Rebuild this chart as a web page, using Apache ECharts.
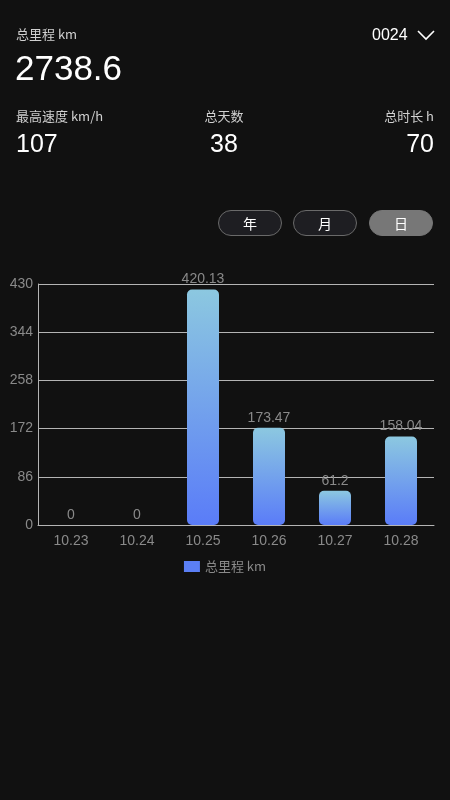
<!DOCTYPE html>
<html><head><meta charset="utf-8">
<script src="https://cdn.jsdelivr.net/npm/echarts@6/dist/echarts.min.js"></script>
<style>
html,body{margin:0;padding:0;background:#111111;width:450px;height:800px;overflow:hidden;font-family:"Noto Sans CJK SC","Noto Sans",sans-serif;}
.t{position:absolute;white-space:nowrap;}
.n{font-family:"Liberation Sans","Noto Sans",sans-serif;}
.btn{position:absolute;top:210px;width:64px;height:26px;border-radius:14px;box-sizing:border-box;border:1px solid #6a6a6a;background:#1e1e22;color:#fff;font-size:14px;line-height:24px;text-align:center;}
#chart{position:absolute;left:0;top:0;width:450px;height:800px;}
</style></head>
<body>
<div id="chart"></div>
<div class="t" style="left:16px;top:24px;font-size:13px;color:#d0d0d0;">总里程 km</div>
<div class="t n" style="left:15px;top:48px;font-size:35px;color:#fff;">2738.6</div>
<div class="t n" style="left:372px;top:26px;font-size:16px;color:#fff;">0024</div>
<svg style="position:absolute;left:417px;top:29px" width="18" height="12"><polyline points="1,2 9,10 17,2" fill="none" stroke="#fff" stroke-width="1.6"/></svg>
<div class="t" style="left:16px;top:106px;font-size:13px;color:#d0d0d0;">最高速度 km/h</div>
<div class="t n" style="left:16px;top:129px;font-size:25px;color:#fff;">107</div>
<div class="t" style="left:224px;top:106px;font-size:13px;color:#d0d0d0;transform:translateX(-50%);">总天数</div>
<div class="t n" style="left:224px;top:129px;font-size:25px;color:#fff;transform:translateX(-50%);">38</div>
<div class="t" style="right:16px;top:106px;font-size:13px;color:#d0d0d0;">总时长 h</div>
<div class="t n" style="right:16px;top:129px;font-size:25px;color:#fff;">70</div>
<div class="btn" style="left:218px;">年</div>
<div class="btn" style="left:293px;">月</div>
<div class="btn" style="left:369px;background:#777;border-color:#777;">日</div>
<script>
const categories = ['10.23','10.24','10.25','10.26','10.27','10.28'];
const distance = [0, 0, 420.13, 173.47, 61.2, 158.04];
const seriesName = '总里程 km';
const yMax = 430;
const yInterval = 86;

const numFont = 'Liberation Sans';
const chart = echarts.init(document.getElementById('chart'));
chart.setOption({
  backgroundColor: 'transparent',
  animation: false,
  legend: {
    data: [{name: seriesName, icon: 'rect'}],
    top: 555,
    left: 'center',
    itemWidth: 16, itemHeight: 11, itemGap: 6,
    textStyle: {color: '#8a8a8a', fontSize: 13, fontFamily: 'Noto Sans CJK SC'},
    itemStyle: {color: '#5b7ff5', borderRadius: 0}
  },
  grid: {left: 38, right: 16, top: 284, bottom: 275, containLabel: false},
  xAxis: {
    type: 'category', data: categories,
    axisLine: {lineStyle: {color: '#b4b4b4'}},
    axisTick: {show: false},
    axisLabel: {color: '#8a8a8a', fontSize: 14, margin: 9, fontFamily: numFont}
  },
  yAxis: {
    type: 'value', min: 0, max: yMax, interval: yInterval,
    axisLine: {show: true, lineStyle: {color: '#b4b4b4'}},
    axisTick: {show: false},
    splitLine: {lineStyle: {color: '#b4b4b4'}},
    axisLabel: {color: '#8a8a8a', fontSize: 14, margin: 5, fontFamily: numFont}
  },
  series: [{
    name: seriesName, type: 'bar', data: distance, barWidth: 32,
    itemStyle: {
      borderRadius: 5,
      color: new echarts.graphic.LinearGradient(0, 0, 0, 1, [
        {offset: 0, color: '#8cc8e0'}, {offset: 1, color: '#5a7cf8'}
      ])
    },
    label: {show: true, position: 'top', color: '#8a8a8a', fontSize: 14, distance: 3, fontFamily: numFont}
  }]
});
</script>
</body></html>
